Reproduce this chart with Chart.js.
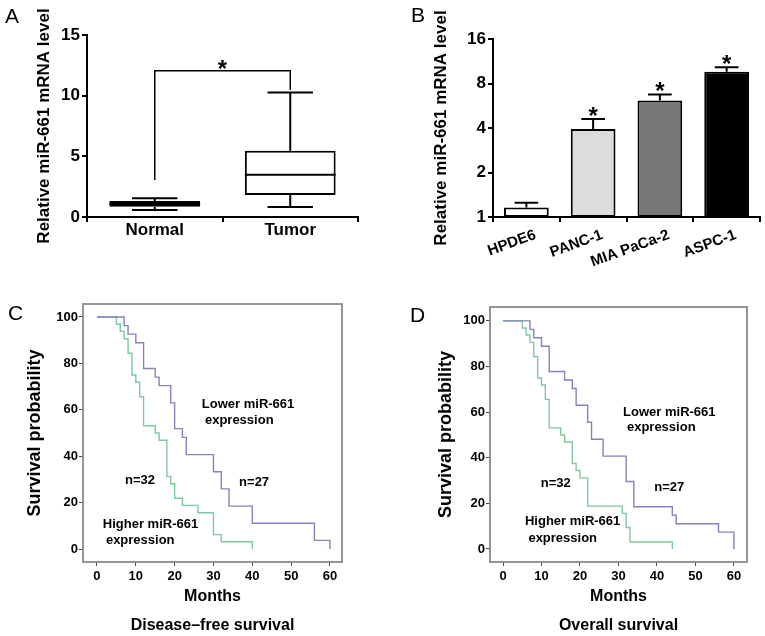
<!DOCTYPE html>
<html><head><meta charset="utf-8">
<script src="https://cdn.jsdelivr.net/npm/chart.js@4/dist/chart.umd.min.js"></script>
<style>
html,body{margin:0;padding:0;background:#fff;}
#wrap{position:relative;width:765px;height:636px;overflow:hidden;background:#fff;}
canvas{position:absolute;}
.lbl{position:absolute;font-family:"Liberation Sans",Arial,sans-serif;font-size:21px;line-height:21px;color:#000;}
</style></head><body>
<div id="wrap">
<canvas id="cA" width="380" height="290" style="left:0;top:0"></canvas>
<canvas id="cB" width="385" height="290" style="left:380px;top:0"></canvas>
<canvas id="cC" width="380" height="346" style="left:0;top:290px"></canvas>
<canvas id="cD" width="380" height="346" style="left:385px;top:290px"></canvas>
<div class="lbl" style="left:5px;top:5px">A</div>
<div class="lbl" style="left:411px;top:4px">B</div>
<div class="lbl" style="left:8px;top:302px">C</div>
<div class="lbl" style="left:410px;top:304px">D</div>
</div>
<script>
// ---------- Panel A data (box plot) ----------
const groupsA = ['Normal', 'Tumor'];
const whiskerMinA = [0.58, 0.83];
const q1A = [0.85, 1.82];
const medianA = [1.07, 3.48];
const q3A = [1.32, 5.47];
const whiskerMaxA = [1.54, 10.27];
const ticksA = [0, 5, 10, 15];
const bracketA = [3.05, 12.06, 10.47]; // left foot, top, right foot

// ---------- Panel B data (bar chart, log2 axis) ----------
const cellLines = ['HPDE6', 'PANC-1', 'MIA PaCa-2', 'ASPC-1'];
const meanB = [1.16, 3.94, 6.13, 9.6];
const upperB = [1.25, 4.6, 6.74, 10.3];
const starB = [false, true, true, true];
const ticksB = [1, 2, 4, 8, 16];

// ---------- Panels C/D (Kaplan-Meier) ----------
const monthTicks = [0, 10, 20, 30, 40, 50, 60];
const survTicks = [0, 20, 40, 60, 80, 100];

const cLowMonths = [0, 7, 8, 10, 12, 15, 16, 19, 20, 22, 23, 30, 32, 34, 40, 56, 60];
const cLowSurv   = [100, 96.3, 92.6, 88.9, 77.8, 74.1, 70.4, 63.0, 51.9, 48.1, 40.7, 33.3, 25.9, 18.5, 11.1, 3.7, 0];
const cHighMonths = [0, 5, 6, 7, 8, 9, 10, 11, 12, 15, 16, 18, 19, 20, 22, 26, 30, 32, 40];
const cHighSurv   = [100, 96.9, 93.8, 90.6, 84.4, 75.0, 71.9, 65.6, 53.1, 50.0, 46.9, 31.2, 28.1, 21.9, 18.8, 15.6, 6.2, 3.1, 0];

const dLowMonths = [0, 7, 8, 10, 12, 16, 18, 19, 22, 23, 26, 32, 34, 44, 45, 56, 60];
const dLowSurv   = [100, 96.3, 92.6, 88.9, 77.8, 74.1, 70.4, 63.0, 55.6, 48.1, 40.7, 29.6, 18.5, 14.8, 11.1, 7.4, 0];
const dHighMonths = [0, 5, 6, 7, 8, 9, 10, 11, 12, 15, 16, 18, 19, 20, 22, 31, 32, 33, 44];
const dHighSurv   = [100, 96.9, 93.8, 90.6, 84.4, 75.0, 71.9, 65.6, 53.1, 50.0, 46.9, 37.5, 34.4, 31.2, 18.8, 15.6, 9.4, 3.1, 0];

const notesC = [
  {text: 'Lower miR-661', x: 27.0, y: 62.5},
  {text: 'expression', x: 27.8, y: 55.6},
  {text: 'n=32', x: 7.2, y: 29.7},
  {text: 'n=27', x: 36.6, y: 28.9},
  {text: 'Higher miR-661', x: 1.5, y: 10.8},
  {text: 'expression', x: 2.3, y: 3.9}
];
const notesD = [
  {text: 'Lower miR-661', x: 31.2, y: 59.8},
  {text: 'expression', x: 32.2, y: 53.2},
  {text: 'n=32', x: 9.8, y: 28.8},
  {text: 'n=27', x: 39.3, y: 26.9},
  {text: 'Higher miR-661', x: 5.7, y: 12.0},
  {text: 'expression', x: 6.6, y: 4.7}
];

// ---------- styling helpers ----------
const FONT = '"Liberation Sans", Arial, Helvetica, sans-serif';
Chart.defaults.font.family = FONT;
Chart.defaults.color = '#000';

function fixY(w) { return s => { s.width = w; s.paddingTop = 0; s.paddingBottom = 0; s.paddingLeft = 0; s.paddingRight = 0; }; }
function fixX(h) { return s => { s.height = h; s.paddingTop = 0; s.paddingBottom = 0; s.paddingLeft = 0; s.paddingRight = 0; }; }
function setTicks(arr) { return s => { s.ticks = arr.map(v => ({value: v})); }; }

function drawStar(ctx, x, cy, size) {
  ctx.font = 'bold ' + size + 'px ' + FONT;
  ctx.textAlign = 'center';
  ctx.textBaseline = 'alphabetic';
  ctx.fillStyle = '#000';
  ctx.fillText('*', x, cy + size * 0.58);
}

const axisGrid = {display: true, drawOnChartArea: false, drawTicks: true, tickLength: 5, color: '#000', lineWidth: 2};
const axisBorder = {display: true, color: '#000', width: 2};
const baseOpts = {responsive: false, animation: false, devicePixelRatio: 1, events: []};

// ---------- Panel A ----------
const boxPlugin = {
  id: 'boxA',
  afterDatasetsDraw(chart) {
    const {ctx, scales: {x, y}} = chart;
    const meta = chart.getDatasetMeta(0);
    ctx.save();
    ctx.strokeStyle = '#000';
    ctx.lineWidth = 2;
    groupsA.forEach((g, i) => {
      const bar = meta.data[i];
      const cx = bar.x, bw = bar.width, cap = bw / 2;
      const yMin = y.getPixelForValue(whiskerMinA[i]);
      const yQ1 = y.getPixelForValue(q1A[i]);
      const yMed = y.getPixelForValue(medianA[i]);
      const yQ3 = y.getPixelForValue(q3A[i]);
      const yMax = y.getPixelForValue(whiskerMaxA[i]);
      ctx.beginPath();
      ctx.moveTo(cx, yQ3); ctx.lineTo(cx, yMax);
      ctx.moveTo(cx - cap / 2, yMax); ctx.lineTo(cx + cap / 2, yMax);
      ctx.moveTo(cx, yQ1); ctx.lineTo(cx, yMin);
      ctx.moveTo(cx - cap / 2, yMin); ctx.lineTo(cx + cap / 2, yMin);
      ctx.moveTo(cx - bw / 2, yMed); ctx.lineTo(cx + bw / 2, yMed);
      ctx.stroke();
    });
    const x0 = x.getPixelForValue(0), x1 = x.getPixelForValue(1);
    const yL = y.getPixelForValue(bracketA[0]);
    const yT = y.getPixelForValue(bracketA[1]);
    const yR = y.getPixelForValue(bracketA[2]);
    ctx.lineWidth = 1.5;
    ctx.beginPath();
    ctx.moveTo(x0, yL); ctx.lineTo(x0, yT); ctx.lineTo(x1, yT); ctx.lineTo(x1, yR);
    ctx.stroke();
    drawStar(ctx, (x0 + x1) / 2, yT - 8, 24);
    ctx.restore();
  }
};

new Chart(document.getElementById('cA'), {
  type: 'bar',
  data: {
    labels: groupsA,
    datasets: [{
      data: groupsA.map((g, i) => [q1A[i], q3A[i]]),
      backgroundColor: ['#000', '#fff'],
      borderColor: '#000', borderWidth: 2, borderSkipped: false,
      barPercentage: 0.67, categoryPercentage: 1
    }]
  },
  options: Object.assign({}, baseOpts, {
    layout: {padding: {left: 0, top: 35, right: 22, bottom: 0}},
    plugins: {legend: {display: false}, tooltip: {enabled: false}},
    scales: {
      x: {
        grid: axisGrid, border: axisBorder,
        ticks: {font: {size: 17, weight: 'bold', lineHeight: 1}, padding: 0, color: '#000'},
        afterFit: fixX(73)
      },
      y: {
        min: 0, max: 15, afterBuildTicks: setTicks(ticksA),
        grid: axisGrid, border: axisBorder,
        ticks: {font: {size: 17, weight: 'bold'}, padding: 2, color: '#000'},
        title: {display: true, text: 'Relative miR-661 mRNA level', color: '#000',
                font: {size: 17, weight: 'bold'}, padding: {top: 34, bottom: 0}},
        afterFit: fixY(87)
      }
    }
  }),
  plugins: [boxPlugin]
});

// ---------- Panel B ----------
const errPlugin = {
  id: 'errB',
  afterDatasetsDraw(chart) {
    const {ctx, scales: {y}} = chart;
    const meta = chart.getDatasetMeta(0);
    ctx.save();
    ctx.strokeStyle = '#000';
    ctx.lineWidth = 2;
    cellLines.forEach((c, i) => {
      const bar = meta.data[i];
      const cx = bar.x, cap = bar.width * 0.53;
      const yTop = y.getPixelForValue(meanB[i]);
      const yUp = y.getPixelForValue(upperB[i]);
      ctx.beginPath();
      ctx.moveTo(cx, yTop); ctx.lineTo(cx, yUp);
      ctx.moveTo(cx - cap / 2, yUp); ctx.lineTo(cx + cap / 2, yUp);
      ctx.stroke();
      if (starB[i]) drawStar(ctx, cx, yUp - 9, 24);
    });
    ctx.restore();
  }
};

new Chart(document.getElementById('cB'), {
  type: 'bar',
  data: {
    labels: cellLines,
    datasets: [{
      data: meanB,
      backgroundColor: ['#ffffff', '#dcdcdc', '#777777', '#000000'],
      borderColor: '#000', borderWidth: 2, borderSkipped: false,
      barPercentage: 0.67, categoryPercentage: 1
    }]
  },
  options: Object.assign({}, baseOpts, {
    layout: {padding: {left: 0, top: 39, right: 5, bottom: 0}},
    plugins: {legend: {display: false}, tooltip: {enabled: false}},
    scales: {
      x: {
        grid: axisGrid, border: axisBorder,
        ticks: {font: {size: 15, weight: 'bold'}, padding: 4, labelOffset: 9, minRotation: 20, maxRotation: 20, autoSkip: false, color: '#000'},
        afterFit: fixX(73)
      },
      y: {
        type: 'logarithmic', min: 1, max: 16, afterBuildTicks: setTicks(ticksB),
        grid: axisGrid, border: axisBorder,
        ticks: {font: {size: 17, weight: 'bold'}, padding: 2, color: '#000', callback: v => String(v)},
        title: {display: true, text: 'Relative miR-661 mRNA level', color: '#000',
                font: {size: 17, weight: 'bold'}, padding: {top: 51, bottom: 0}},
        afterFit: fixY(113)
      }
    }
  }),
  plugins: [errPlugin]
});

// ---------- Panels C & D ----------
const framePlugin = {
  id: 'frame',
  afterDraw(chart) {
    const {ctx, chartArea: a} = chart;
    ctx.save();
    ctx.strokeStyle = '#8a8a8a';
    ctx.lineWidth = 1.8;
    ctx.strokeRect(a.left, a.top, a.right - a.left, a.bottom - a.top);
    ctx.restore();
  }
};
function notesPlugin(notes) {
  return {
    id: 'notes',
    afterDatasetsDraw(chart) {
      const {ctx, scales: {x, y}} = chart;
      ctx.save();
      ctx.font = 'bold 13px ' + FONT;
      ctx.fillStyle = '#000';
      ctx.textAlign = 'left';
      ctx.textBaseline = 'middle';
      notes.forEach(n => ctx.fillText(n.text, x.getPixelForValue(n.x), y.getPixelForValue(n.y)));
      ctx.restore();
    }
  };
}
const kmGrid = {display: true, drawOnChartArea: false, drawTicks: true, tickLength: 4, color: '#444', lineWidth: 1};

function kmChart(id, lowM, lowS, highM, highS, notes, cfg) {
  return new Chart(document.getElementById(id), {
    type: 'line',
    data: {
      datasets: [
        {data: lowM.map((m, i) => ({x: m, y: lowS[i]})), borderColor: '#8484ba', borderWidth: 1.4,
         stepped: 'before', pointRadius: 0, fill: false},
        {data: highM.map((m, i) => ({x: m, y: highS[i]})), borderColor: '#7dcaa0', borderWidth: 1.4,
         stepped: 'before', pointRadius: 0, fill: false}
      ]
    },
    options: Object.assign({}, baseOpts, {
      layout: {padding: {left: 0, top: cfg.top, right: cfg.right, bottom: 0}},
      plugins: {legend: {display: false}, tooltip: {enabled: false}},
      scales: {
        x: {
          type: 'linear', min: cfg.xmin, max: cfg.xmax, afterBuildTicks: setTicks(monthTicks),
          grid: kmGrid, border: {display: false},
          ticks: {font: {size: 13, weight: 'bold'}, padding: 3, color: '#000'},
          title: {display: true, text: ['Months', cfg.caption], color: '#000',
                  font: {size: 16, weight: 'bold', lineHeight: '29px'}, padding: {top: 0, bottom: -4.5}},
          afterFit: fixX(74)
        },
        y: {
          type: 'linear', min: cfg.ymin, max: cfg.ymax, afterBuildTicks: setTicks(survTicks),
          grid: kmGrid, border: {display: false},
          ticks: {font: {size: 13, weight: 'bold'}, padding: 1, color: '#000'},
          title: {display: true, text: 'Survival probability', color: '#000',
                  font: {size: 18, weight: 'bold'}, padding: {top: cfg.titlePad, bottom: 0}},
          afterFit: fixY(cfg.left)
        }
      }
    }),
    plugins: [framePlugin, notesPlugin(notes)]
  });
}

kmChart('cC', cLowMonths, cLowSurv, cHighMonths, cHighSurv, notesC,
  {top: 14, right: 38, left: 83, xmin: -3.6, xmax: 63.1, ymin: -5.6, ymax: 105.6, titlePad: 24, caption: 'Disease–free survival'});
kmChart('cD', dLowMonths, dLowSurv, dHighMonths, dHighSurv, notesD,
  {top: 17, right: 18, left: 105, xmin: -3.38, xmax: 63.4, ymin: -5.7, ymax: 106.1, titlePad: 50, caption: 'Overall survival'});
</script>
</body></html>
